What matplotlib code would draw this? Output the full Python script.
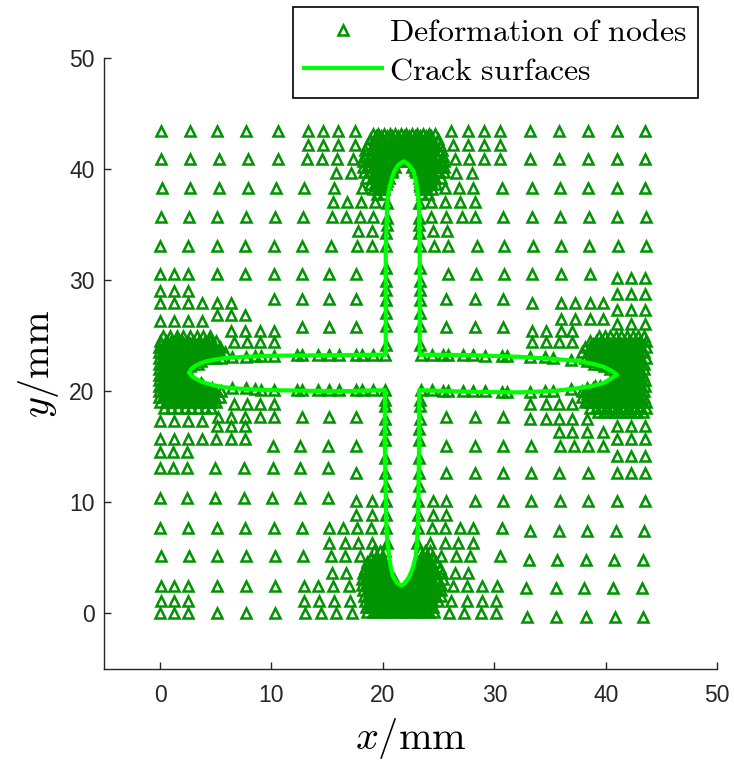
import matplotlib
matplotlib.use("Agg")
import matplotlib.pyplot as plt
from matplotlib.lines import Line2D
import numpy as np

plt.rcParams['mathtext.fontset'] = 'cm'
plt.rcParams['font.family'] = ['Liberation Sans', 'DejaVu Sans']

# ---------------- data (mm) ----------------
# regular / refined mesh nodes, one entry per row: (y, [x ...])
rows_upper = [
    (43.4, [0.1, 2.65, 5.15, 7.75, 10.55, 13.25, 14.6, 15.95, 17.5, 26.15, 27.6, 29.05, 30.5, 33.2, 35.8, 38.4, 41.0, 43.5]),
    (42.2, [13.25, 14.6, 15.95, 17.5, 26.3, 27.65, 29.05, 30.5]),
    (40.9, [0.1, 2.7, 5.25, 7.85, 10.55, 13.15, 14.55, 15.85, 17.3, 26.5, 27.7, 29.05, 30.5, 33.2, 35.8, 38.4, 41.0, 43.5]),
    (39.65, [15.75, 17.1, 26.6, 27.95]),
    (38.3, [0.2, 2.7, 5.25, 7.85, 10.45, 12.95, 15.6, 18.1, 25.55, 26.85, 28.1, 30.65, 33.4, 35.9, 38.4, 41.0, 43.5]),
    (37.05, [15.5, 16.75, 18.0, 19.25, 24.35, 25.55, 26.9, 28.25]),
    (35.7, [0.1, 2.6, 5.1, 7.7, 10.3, 12.8, 15.4, 16.65, 17.9, 19.1, 24.35, 25.7, 27.05, 28.25, 30.8, 33.4, 35.9, 38.5, 41.0, 43.6]),
    (34.4, [17.75, 19.06, 24.45, 25.75]),
    (33.1, [0.0, 2.55, 5.1, 7.65, 10.2, 12.7, 15.3, 17.7, 19.06, 24.6, 25.85, 28.4, 30.85, 33.5, 36.0, 38.5, 41.1, 43.6]),
    (30.6, [0.0, 1.27, 2.5, 5.1, 7.65, 10.2, 12.7, 15.2, 17.55, 25.8, 28.35, 30.85, 33.4, 36.0, 38.55]),
    (30.2, [41.0, 42.3, 43.55]),
]
rows_middle = [
    (29.0, [0.0, 1.27, 2.5]),
    (28.8, [41.0, 42.3, 43.55]),
    (28.3, [10.2, 12.7, 15.2, 17.55, 25.7, 28.3, 30.8]),
    (27.95, [0.0, 1.27, 2.5, 3.8, 5.1, 6.35, 33.4, 36.0, 37.2, 38.55, 39.75]),
    (27.35, [41.0, 42.3, 43.55]),
    (26.9, [5.1, 6.35, 7.65]),
    (26.5, [36.0, 37.2, 38.55, 39.75]),
    (26.3, [0.0, 1.27, 2.5, 3.8]),
    (26.05, [41.0, 42.3, 43.55]),
    (25.8, [12.7, 15.2, 17.55, 25.7, 28.3, 30.8]),
    (25.45, [6.4, 7.65, 8.93, 10.2, 33.4, 34.6, 36.0, 37.0]),
    (24.4, [6.6, 7.8, 8.93, 10.2, 33.4, 34.6, 35.8, 37.0]),
    (18.85, [6.6, 7.8, 8.93, 10.2, 33.2, 34.6, 35.8, 37.0]),
    (17.7, [5.2, 6.35, 7.65, 8.93, 10.2, 12.7, 15.2, 17.55, 25.7, 28.3, 30.8]),
    (17.5, [33.2, 34.6, 35.8, 37.0, 38.35]),
    (17.3, [0.0, 1.27, 2.5, 3.8]),
    (16.85, [5.1, 6.35, 7.65, 41.0, 42.3, 43.5]),
    (16.3, [35.8, 37.0, 38.35, 39.75]),
    (15.7, [0.0, 1.23, 2.5, 3.8, 5.05, 6.35, 7.6, 41.0, 42.3, 43.5]),
    (15.05, [10.1, 12.6, 15.1, 17.55, 25.7, 28.25, 30.75, 33.3, 35.9, 37.1, 38.4, 39.7]),
    (14.5, [0.0, 1.2, 2.4]),
    (14.2, [41.0, 42.3, 43.5]),
    (13.1, [0.0, 1.2, 2.45, 4.95, 7.5, 10.1, 12.6, 15.1]),
    (12.65, [17.55, 25.7, 28.25, 30.75, 33.3, 35.8, 38.4, 41.0, 42.3, 43.5]),
]
rows_lower = [
    (10.4, [0.0, 2.45, 4.95, 7.5, 10.05, 12.6, 15.1]),
    (10.1, [17.55, 19.0, 24.5, 25.7, 28.25, 30.73, 33.3, 35.9, 38.4, 41.0, 43.5]),
    (8.9, [17.55, 19.0, 24.5, 25.7]),
    (7.65, [0.0, 2.55, 5.1, 7.65, 10.25, 12.75, 15.15, 16.4, 17.67, 18.97, 24.36, 25.55, 26.9, 28.1, 30.65]),
    (7.4, [33.2, 35.8, 38.3, 40.9, 43.4]),
    (6.36, [15.2, 16.57, 17.8, 19.06, 24.2, 25.55, 26.75, 28.04]),
    (5.15, [0.1, 2.6, 5.15, 7.7, 10.3, 12.85, 15.3, 16.57, 17.9, 25.25, 26.6, 27.8, 30.5]),
    (4.85, [33.1, 35.6, 38.2, 40.7, 43.3]),
    (3.66, [15.46, 16.72, 26.45, 27.65]),
    (2.5, [0.1, 1.25, 2.55, 5.1, 7.7, 10.35, 12.9, 14.2, 15.55, 16.96, 26.3, 27.5, 28.85, 30.2]),
    (2.3, [32.8, 35.5, 38.0, 40.6, 43.2]),
    (1.15, [0.1, 1.25, 2.55, 12.95, 14.3, 15.65, 17.08, 26.15, 27.5, 28.85, 30.13]),
    (0.0, [0.0, 1.25, 2.47, 5.1, 7.7, 10.35, 13.05, 14.4, 15.8, 17.26, 25.9, 27.3, 28.8, 30.15]),
    (-0.3, [32.9, 35.5, 38.2, 40.8, 43.3]),
]

# dense node clusters around the four crack tips: (y, [x ...])
blob_left = [
    (25.0, [0.3, 0.9, 1.5, 2.1, 2.7, 3.3, 3.9, 4.5]),
    (24.5, [0.0, 0.5, 1.0, 1.5, 2.0, 2.5, 3.0, 3.5, 4.0, 4.5, 5.0]),
    (24.25, [0.65, 1.15, 1.65, 2.15, 2.65, 3.15, 3.65, 4.15, 4.65]),
    (24.0, [-0.1, 0.4, 0.9, 1.4, 1.9, 2.4, 2.9, 3.4, 3.9, 4.4, 4.9, 5.4]),
    (23.75, [0.65, 1.15, 1.65, 2.15, 2.65, 3.15, 3.65, 4.15, 4.65]),
    (23.5, [-0.1, 0.4, 0.9, 1.4, 1.9, 2.4, 2.9, 3.4, 3.9, 4.4, 4.9, 5.4, 5.8]),
    (23.25, [0.65, 1.15, 1.65, 2.15, 2.65, 3.15, 3.65, 4.15, 4.65]),
    (23.0, [-0.1, 0.4, 0.9, 1.4, 1.9, 2.4, 2.9, 3.4, 3.9, 4.4, 4.9, 5.5]),
    (22.75, [0.65, 1.15, 1.65, 2.15, 2.65, 3.15, 3.65]),
    (22.5, [-0.1, 0.4, 0.9, 1.4, 1.9, 2.4, 2.9, 3.4]),
    (22.25, [0.65, 1.15, 1.65, 2.15, 2.65]),
    (22.0, [-0.1, 0.4, 0.9, 1.4, 1.9, 2.4]),
    (21.75, [0.65, 1.15, 1.65, 2.15]),
    (21.5, [-0.1, 0.4, 0.9, 1.4, 1.9, 2.3]),
    (21.25, [0.65, 1.15, 1.65, 2.15, 2.65]),
    (21.0, [-0.1, 0.4, 0.9, 1.4, 1.9, 2.4, 2.9]),
    (20.75, [0.65, 1.15, 1.65, 2.15, 2.65, 3.15, 3.65]),
    (20.5, [-0.1, 0.4, 0.9, 1.4, 1.9, 2.4, 2.9, 3.4, 3.9]),
    (20.25, [0.65, 1.15, 1.65, 2.15, 2.65, 3.15, 3.65, 4.15, 4.65]),
    (20.0, [-0.1, 0.4, 0.9, 1.4, 1.9, 2.4, 2.9, 3.4, 3.9, 4.4, 4.9, 5.5]),
    (19.75, [0.65, 1.15, 1.65, 2.15, 2.65, 3.15, 3.65, 4.15, 4.65]),
    (19.5, [-0.1, 0.4, 0.9, 1.4, 1.9, 2.4, 2.9, 3.4, 3.9, 4.4, 4.9, 5.4]),
    (19.25, [0.65, 1.15, 1.65, 2.15, 2.65, 3.15, 3.65, 4.15, 4.65]),
    (19.0, [0.0, 0.5, 1.0, 1.5, 2.0, 2.5, 3.0, 3.5, 4.0, 4.5, 5.0]),
    (18.5, [0.4, 1.0, 1.6, 2.2, 2.8, 3.4, 4.0, 4.6]),
]
blob_right = [
    (25.0, [39.4, 39.9, 40.4, 40.9, 41.4, 41.9, 42.4, 42.9, 43.4]),
    (24.5, [38.6, 39.1, 39.6, 40.1, 40.6, 41.1, 41.6, 42.1, 42.6, 43.1, 43.6]),
    (24.25, [38.85, 39.35, 39.85, 40.35, 40.85, 41.35, 41.85, 42.35, 42.85]),
    (24.0, [38.1, 38.6, 39.1, 39.6, 40.1, 40.6, 41.1, 41.6, 42.1, 42.6, 43.1, 43.6]),
    (23.75, [38.85, 39.35, 39.85, 40.35, 40.85, 41.35, 41.85, 42.35, 42.85]),
    (23.5, [37.9, 38.4, 38.9, 39.4, 39.9, 40.4, 40.9, 41.4, 41.9, 42.4, 42.9, 43.4]),
    (23.25, [38.85, 39.35, 39.85, 40.35, 40.85, 41.35, 41.85, 42.35, 42.85]),
    (23.0, [38.1, 38.6, 39.1, 39.6, 40.1, 40.6, 41.1, 41.6, 42.1, 42.6, 43.1, 43.6]),
    (22.75, [38.35, 38.85, 39.35, 39.85, 40.35, 40.85, 41.35, 41.85, 42.35, 42.85]),
    (22.5, [38.9, 39.4, 39.9, 40.4, 40.9, 41.4, 41.9, 42.4, 42.9, 43.4]),
    (22.25, [39.85, 40.35, 40.85, 41.35, 41.85, 42.35, 42.85]),
    (22.0, [40.4, 40.9, 41.4, 41.9, 42.4, 42.9, 43.4]),
    (21.75, [40.85, 41.35, 41.85, 42.35, 42.85]),
    (21.5, [41.3, 41.8, 42.3, 42.8, 43.3]),
    (21.25, [40.85, 41.35, 41.85, 42.35, 42.85]),
    (21.0, [40.5, 41.0, 41.5, 42.0, 42.5, 43.0, 43.5]),
    (20.75, [40.35, 40.85, 41.35, 41.85, 42.35, 42.85]),
    (20.5, [39.0, 39.5, 40.0, 40.5, 41.0, 41.5, 42.0, 42.5, 43.0, 43.5]),
    (20.25, [38.35, 38.85, 39.35, 39.85, 40.35, 40.85, 41.35, 41.85, 42.35, 42.85]),
    (20.0, [37.9, 38.4, 38.9, 39.4, 39.9, 40.4, 40.9, 41.4, 41.9, 42.4, 42.9, 43.4]),
    (19.75, [38.35, 38.85, 39.35, 39.85, 40.35, 40.85, 41.35, 41.85, 42.35, 42.85]),
    (19.5, [37.9, 38.4, 38.9, 39.4, 39.9, 40.4, 40.9, 41.4, 41.9, 42.4, 42.9, 43.4]),
    (19.25, [38.35, 38.85, 39.35, 39.85, 40.35, 40.85, 41.35, 41.85, 42.35, 42.85]),
    (19.0, [38.1, 38.6, 39.1, 39.6, 40.1, 40.6, 41.1, 41.6, 42.1, 42.6, 43.1, 43.6]),
    (18.5, [38.6, 39.1, 39.6, 40.1, 40.6, 41.1, 41.6, 42.1, 42.6, 43.1, 43.6]),
    (18.1, [39.3, 39.8, 40.3, 40.8, 41.3, 41.8, 42.3, 42.8, 43.3]),
]
blob_top = [
    (43.2, [19.1, 19.6, 20.1, 20.6, 21.1, 21.6, 22.1, 22.6, 23.1, 23.6, 24.1, 24.7]),
    (42.95, [19.35, 19.85, 20.35, 20.85, 21.35, 21.85, 22.35, 22.85, 23.35, 23.85, 24.35]),
    (42.7, [18.8, 19.3, 19.8, 20.3, 20.8, 21.3, 21.8, 22.3, 22.8, 23.3, 23.8, 24.3, 24.9]),
    (42.45, [19.35, 19.85, 20.35, 20.85, 21.35, 21.85, 22.35, 22.85, 23.35, 23.85, 24.35]),
    (42.2, [18.6, 19.1, 19.6, 20.1, 20.6, 21.1, 21.6, 22.1, 22.6, 23.1, 23.6, 24.1, 24.6, 25.1]),
    (41.95, [19.35, 19.85, 20.35, 20.85, 21.35, 21.85, 22.35, 22.85, 23.35, 23.85, 24.35]),
    (41.7, [18.4, 18.9, 19.4, 19.9, 20.4, 20.9, 21.4, 21.9, 22.4, 22.9, 23.4, 23.9, 24.4, 24.9, 25.3]),
    (41.45, [19.35, 19.85, 20.35, 20.85, 21.35, 21.85, 22.35, 22.85, 23.35, 23.85, 24.35]),
    (41.2, [18.3, 18.8, 19.3, 19.8, 20.3, 20.8, 21.3, 21.8, 22.3, 22.8, 23.3, 23.8, 24.3, 24.8, 25.4]),
    (40.95, [19.35, 19.85, 20.35, 20.85, 21.35, 21.85, 22.35, 22.85, 23.35, 23.85, 24.35]),
    (40.7, [18.2, 18.7, 19.2, 19.7, 20.2, 20.7, 21.2, 21.5, 22.25, 22.7, 23.2, 23.7, 24.2, 24.7, 25.2, 25.5]),
    (40.45, [19.35, 19.85, 20.35, 20.85, 22.85, 23.35, 23.85, 24.35]),
    (40.2, [18.2, 18.7, 19.2, 19.7, 20.2, 20.7, 21.1, 22.6, 23.1, 23.6, 24.1, 24.6, 25.1, 25.5]),
    (39.95, [19.35, 19.85, 20.35, 20.8, 22.9, 23.35, 23.85, 24.35]),
    (39.7, [18.3, 18.8, 19.3, 19.8, 20.3, 20.8, 23.0, 23.5, 24.0, 24.5, 25.0, 25.5]),
    (39.45, [19.35, 19.85, 20.35, 23.35, 23.85, 24.35]),
    (39.2, [18.5, 19.0, 19.5, 20.0, 20.5, 23.2, 23.7, 24.2, 24.7, 25.2]),
    (38.95, [19.35, 19.85, 20.35, 23.35, 23.85, 24.35]),
    (38.7, [18.8, 19.3, 19.8, 20.3, 23.3, 23.8, 24.3, 24.8]),
    (38.45, [19.35, 19.85, 23.35, 23.85]),
    (38.2, [19.1, 19.6, 20.1, 23.4, 23.9, 24.4]),
    (37.8, [19.5, 20.0, 23.5, 24.0]),
]
blob_bottom = [
    (5.6, [19.2, 19.7, 20.2, 23.3, 23.8, 24.2]),
    (5.1, [18.9, 19.4, 19.9, 23.4, 23.9, 24.4]),
    (4.85, [19.35, 19.85, 23.35, 23.85]),
    (4.6, [18.6, 19.1, 19.6, 20.1, 23.3, 23.8, 24.3, 24.8]),
    (4.35, [18.85, 19.35, 19.85, 23.35, 23.85, 24.35]),
    (4.1, [18.4, 18.9, 19.4, 19.9, 20.4, 23.1, 23.6, 24.1, 24.6, 25.1]),
    (3.85, [18.85, 19.35, 19.85, 20.35, 22.85, 23.35, 23.85, 24.35]),
    (3.6, [18.2, 18.7, 19.2, 19.7, 20.2, 20.6, 22.8, 23.3, 23.8, 24.3, 24.8, 25.3]),
    (3.35, [18.85, 19.35, 19.85, 20.35, 22.85, 23.35, 23.85, 24.35]),
    (3.1, [18.1, 18.6, 19.1, 19.6, 20.1, 20.6, 21.0, 22.3, 22.8, 23.3, 23.8, 24.3, 24.8, 25.4]),
    (2.85, [18.85, 19.35, 19.85, 20.35, 20.85, 22.35, 22.85, 23.35, 23.85, 24.35]),
    (2.6, [18.1, 18.6, 19.1, 19.6, 20.1, 20.6, 21.2, 22.1, 22.6, 23.1, 23.6, 24.1, 24.6, 25.2]),
    (2.35, [18.85, 19.35, 19.85, 20.35, 20.85, 21.35, 21.85, 22.35, 22.85, 23.35, 23.85, 24.35]),
    (2.1, [18.2, 18.7, 19.2, 19.7, 20.2, 20.7, 21.2, 21.7, 22.2, 22.7, 23.2, 23.7, 24.2, 24.7, 25.2]),
    (1.85, [18.85, 19.35, 19.85, 20.35, 20.85, 21.35, 21.85, 22.35, 22.85, 23.35, 23.85, 24.35]),
    (1.6, [18.3, 18.8, 19.3, 19.8, 20.3, 20.8, 21.3, 21.8, 22.3, 22.8, 23.3, 23.8, 24.3, 24.8, 25.2]),
    (1.35, [18.85, 19.35, 19.85, 20.35, 20.85, 21.35, 21.85, 22.35, 22.85, 23.35, 23.85, 24.35]),
    (1.1, [18.4, 18.9, 19.4, 19.9, 20.4, 20.9, 21.4, 21.9, 22.4, 22.9, 23.4, 23.9, 24.4, 24.9]),
    (0.85, [18.85, 19.35, 19.85, 20.35, 20.85, 21.35, 21.85, 22.35, 22.85, 23.35, 23.85, 24.35]),
    (0.6, [18.5, 19.0, 19.5, 20.0, 20.5, 21.0, 21.5, 22.0, 22.5, 23.0, 23.5, 24.0, 24.5]),
    (0.35, [19.35, 19.85, 20.35, 20.85, 21.35, 21.85, 22.35, 22.85, 23.35, 23.85]),
    (0.1, [18.6, 19.1, 19.6, 20.1, 20.6, 21.1, 21.6, 22.1, 22.6, 23.1, 23.6, 24.1, 24.6]),
]

# nodes lying on the crack faces
hcrack_node_x = [6.5, 7.7, 8.5, 9.1, 10.2, 12.3, 12.7, 14.2, 15.2, 16.1, 17.6, 18.1, 19.1, 20.2,
                 23.4, 24.4, 25.4, 25.85, 27.2, 28.1, 29.2, 30.7, 31.1, 33.2, 34.5, 35.3, 36.9]
hcrack_upper_y = [23.05, 23.1, 23.15, 23.2, 23.2, 23.25, 23.25, 23.3, 23.3, 23.3, 23.3, 23.3, 23.3, 23.3,
                  23.3, 23.3, 23.3, 23.3, 23.25, 23.25, 23.2, 23.2, 23.2, 23.1, 23.05, 23.0, 22.85]
hcrack_lower_y = [20.3, 20.25, 20.2, 20.15, 20.15, 20.1, 20.1, 20.1, 20.1, 20.1, 20.1, 20.1, 20.1, 20.1,
                  20.1, 20.1, 20.05, 20.05, 20.0, 20.0, 20.0, 19.95, 19.95, 19.95, 20.0, 20.05, 20.2]
vcrack_node_y = [36.95, 35.6, 35.0, 34.25, 33.05, 31.1, 29.9, 29.15, 28.25, 27.05, 25.85, 24.2,
                 19.25, 18.65, 17.5, 16.6, 15.65, 14.0, 12.65, 11.45, 10.1, 8.9, 7.7, 6.35]
vcrack_left_x = [20.37, 20.35, 20.33, 20.3, 20.3, 20.28, 20.27, 20.27, 20.26, 20.25, 20.25, 20.25,
                 20.2, 20.2, 20.2, 20.2, 20.2, 20.2, 20.22, 20.25, 20.27, 20.3, 20.3, 20.4]
vcrack_right_x = [23.24, 23.25, 23.27, 23.28, 23.3, 23.3, 23.3, 23.3, 23.3, 23.3, 23.3, 23.3,
                  23.3, 23.3, 23.3, 23.28, 23.25, 23.25, 23.22, 23.2, 23.18, 23.17, 23.15, 23.07]

# crack surfaces (closed outline of the opened cross-shaped crack)
crack_x = [2.65, 2.8, 3.1, 3.6, 4.15, 5.0, 5.9, 7.5, 10.1, 16.0, 20.25,
           20.25, 20.37, 20.45, 20.6, 20.8, 21.06, 21.4, 21.87, 22.3, 22.7, 22.9, 23.06, 23.15, 23.24, 23.3,
           23.3, 28.0, 32.3, 35.5, 37.7, 38.9, 39.8, 40.5, 41.0, 40.5, 39.8, 38.9, 37.7, 35.5, 32.3, 28.0, 23.25,
           23.25, 23.15, 23.07, 22.95, 22.7, 22.4, 22.0, 21.66, 21.25, 20.9, 20.7, 20.55, 20.4, 20.3, 20.16,
           20.2, 16.0, 10.1, 7.5, 5.9, 5.0, 4.15, 3.6, 3.1, 2.8, 2.65]
crack_y = [21.7, 22.0, 22.25, 22.5, 22.7, 22.87, 23.0, 23.1, 23.2, 23.25, 23.3,
           32.4, 36.6, 37.6, 38.4, 39.2, 39.9, 40.4, 40.7, 40.4, 39.9, 39.2, 38.4, 37.6, 36.6, 32.4,
           23.3, 23.25, 23.1, 22.9, 22.7, 22.45, 22.2, 21.85, 21.5, 21.15, 20.75, 20.5, 20.3, 20.05, 19.9, 19.95, 20.1,
           15.65, 8.15, 6.5, 5.15, 4.2, 3.35, 2.75, 2.5, 2.75, 3.35, 4.2, 5.15, 6.5, 8.15, 15.65,
           20.1, 20.0, 20.1, 20.2, 20.35, 20.5, 20.72, 20.93, 21.2, 21.4, 21.7]

x_ticks = [0, 10, 20, 30, 40, 50]
y_ticks = [0, 10, 20, 30, 40, 50]
legend_labels = [r'$\mathrm{Deformation\ of\ nodes}$', r'$\mathrm{Crack\ surfaces}$']

# ---------------- assemble node table ----------------
node_x, node_y = [], []
for table in (rows_upper, rows_middle, rows_lower, blob_left, blob_right, blob_top, blob_bottom):
    for yv, xs in table:
        node_x.extend(xs)
        node_y.extend([yv] * len(xs))
node_x += hcrack_node_x + hcrack_node_x + vcrack_left_x + vcrack_right_x
node_y += hcrack_upper_y + hcrack_lower_y + vcrack_node_y + vcrack_node_y

# ---------------- figure ----------------
W, H = 734, 760
fig = plt.figure(figsize=(W / 100, H / 100), dpi=100)
ax = fig.add_axes([104.3 / W, (H - 669) / H, (717.3 - 104.3) / W, (669 - 58) / H])

mk_color = '#009400'
line_color = '#00ff00'
MS, MEW = 7.0, 1.8
ax.plot(node_x, node_y, linestyle='none', marker='^', markersize=MS,
        markerfacecolor='none', markeredgecolor=mk_color, markeredgewidth=MEW, zorder=2)
ax.plot(crack_x, crack_y, color=line_color, linewidth=3.0, solid_joinstyle='round', zorder=3)

ax.set_xlim(-5, 50)
ax.set_ylim(-5, 50)
ax.set_xticks(x_ticks)
ax.set_yticks(y_ticks)
for s in ('top', 'right'):
    ax.spines[s].set_visible(False)
for s in ('left', 'bottom'):
    ax.spines[s].set_linewidth(1.0)
    ax.spines[s].set_color('#262626')
ax.tick_params(direction='in', length=5, width=1.0, colors='#262626', labelsize=16.5)
ax.tick_params(axis='x', pad=11)
ax.tick_params(axis='y', pad=7)

ax.set_xlabel(r'$x/\mathrm{mm}$', fontsize=29, labelpad=6)
ax.set_ylabel(r'$y/\mathrm{mm}$', fontsize=29, labelpad=6)

handles = [Line2D([], [], linestyle='none', marker='^', markersize=MS, markerfacecolor='none',
                  markeredgecolor=mk_color, markeredgewidth=MEW),
           Line2D([], [], color=line_color, linewidth=3.0)]
leg = ax.legend(handles, legend_labels, loc='upper right',
                bbox_to_anchor=(698.3 / W, 1 - 7.3 / H), bbox_transform=fig.transFigure,
                fontsize=23, frameon=True, fancybox=False, framealpha=1, edgecolor='black',
                handlelength=2.45, handletextpad=0.22, labelspacing=0.25, borderpad=0.35,
                borderaxespad=0, numpoints=1)
leg.get_frame().set_linewidth(1.2)

fig.savefig('out.png', dpi=100)
